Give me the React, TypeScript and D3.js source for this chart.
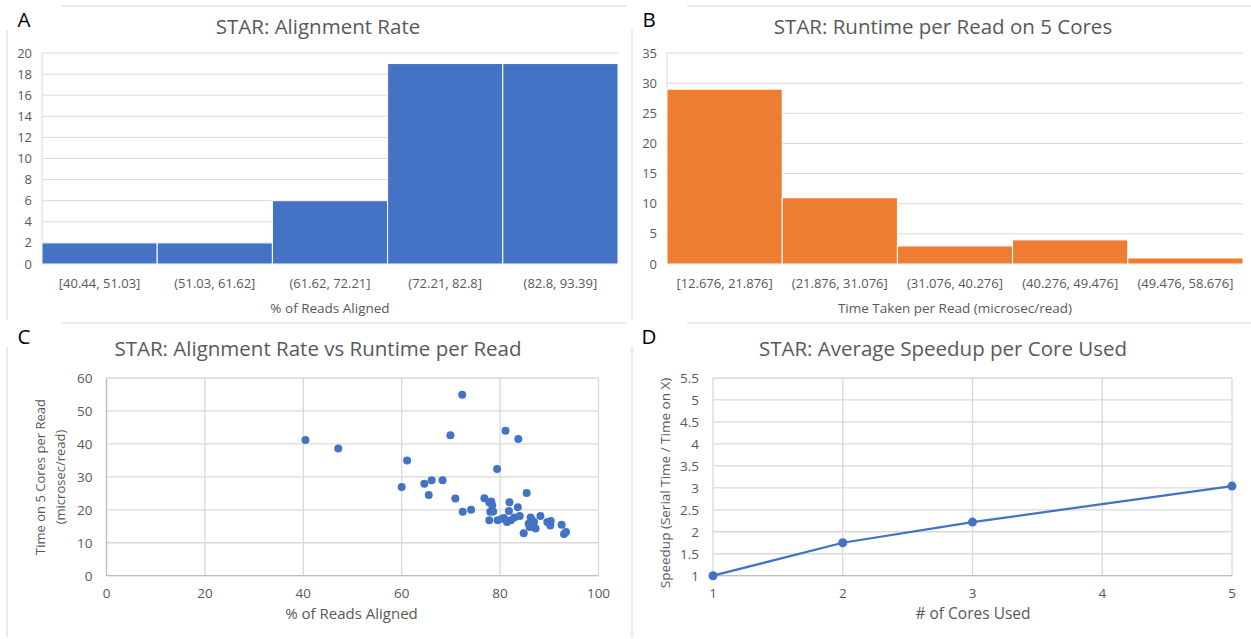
import React from "react";
import * as d3 from "d3";

// ---- Data ----
const alignBins = ["[40.44, 51.03]", "(51.03, 61.62]", "(61.62, 72.21]", "(72.21, 82.8]", "(82.8, 93.39]"];
const alignCounts = [2, 2, 6, 19, 19];
const alignTicks = [0, 2, 4, 6, 8, 10, 12, 14, 16, 18, 20];

const runtimeBins = ["[12.676, 21.876]", "(21.876, 31.076]", "(31.076, 40.276]", "(40.276, 49.476]", "(49.476, 58.676]"];
const runtimeCounts = [29, 11, 3, 4, 1];
const runtimeTicks = [0, 5, 10, 15, 20, 25, 30, 35];

// % of reads aligned vs time per read on 5 cores
const pctAligned = [
  40.44, 47.1, 60.0, 61.1, 64.6, 65.5, 66.1, 68.3, 69.9, 70.9,
  72.3, 72.4, 74.1, 76.8, 77.8, 78.2, 78.4, 78.0, 78.6, 77.8,
  79.4, 79.5, 80.4, 81.1, 81.4, 81.8, 81.9, 80.8, 82.2,
  82.9, 83.6, 83.7, 84.0, 84.8, 85.4, 85.8, 86.2, 86.5, 86.9,
  87.2, 86.0, 88.2, 89.6, 90.2, 90.3, 92.5, 93.0, 93.39,
];
const timePerRead = [
  41.2, 38.6, 26.9, 35.0, 27.9, 24.5, 29.0, 29.0, 42.6, 23.4,
  54.9, 19.4, 20.0, 23.5, 22.2, 22.5, 21.4, 19.4, 19.5, 16.8,
  32.4, 16.8, 17.3, 44.0, 16.3, 19.6, 22.3, 17.5, 16.8,
  17.7, 20.8, 41.5, 18.1, 12.9, 25.1, 15.8, 17.7, 16.8, 16.3,
  14.3, 14.8, 18.1, 16.3, 15.2, 16.6, 15.5, 12.676, 13.3,
];
const scatterXTicks = [0, 20, 40, 60, 80, 100];
const scatterYTicks = [0, 10, 20, 30, 40, 50, 60];

const coresUsed = [1, 2, 3, 5];
const speedup = [1, 1.75, 2.22, 3.04];
const coreTicks = [1, 2, 3, 4, 5];
const speedupTicks = [1, 1.5, 2, 2.5, 3, 3.5, 4, 4.5, 5, 5.5];

// ---- Styles ----
const FONT = "'Open Sans', 'Noto Sans', sans-serif";
const TEXT = "#595959";
const GRID = "#d9d9d9";
const BLUE = "#4472C4";
const ORANGE = "#ED7D31";
const TITLE_SIZE = 20.5;

type FrameProps = { x: number; y: number; label: string };

// Card edges and the panel letter
function Frame({ x, y, label }: FrameProps) {
  return (
    <g>
      <line x1={x + 62} x2={x + 626} y1={y + 6} y2={y + 6} stroke="#e3e3e3" strokeWidth={1.5} />
      <line x1={x + 7} x2={x + 7} y1={y + 30} y2={y + 320} stroke="#e3e3e3" strokeWidth={1.5} />
      <text x={x + 24} y={y + 27} fontFamily={FONT} fontSize={20.5} fill="#000" textAnchor="middle">
        {label}
      </text>
    </g>
  );
}

type HistProps = {
  ox: number;
  oy: number;
  title: string;
  bins: string[];
  counts: number[];
  ticks: number[];
  color: string;
  xTitle: string;
  left: number;
  right: number;
};

function Histogram({ ox, oy, title, bins, counts, ticks, color, xTitle, left, right }: HistProps) {
  const top = 53;
  const bottom = 264;
  const x = d3.scaleBand<string>().domain(bins).range([ox + left, ox + right]).padding(0);
  const y = d3.scaleLinear().domain([0, ticks[ticks.length - 1]]).range([oy + bottom, oy + top]);
  const cx = ox + (left + right) / 2;
  return (
    <g>
      <text x={ox + 318} y={oy + 34} textAnchor="middle" fontFamily={FONT} fontSize={TITLE_SIZE} fill={TEXT}>
        {title}
      </text>
      {ticks.map((t) => (
        <g key={t}>
          <line x1={ox + left} x2={ox + right} y1={y(t)} y2={y(t)} stroke={GRID} strokeWidth={1} />
          <text x={ox + left - 10} y={y(t) + 4.5} textAnchor="end" fontFamily={FONT} fontSize={13} fill={TEXT}>
            {t}
          </text>
        </g>
      ))}
      <line x1={ox + left} x2={ox + left} y1={oy + top} y2={oy + bottom} stroke={GRID} strokeWidth={1} />
      {bins.map((b, i) => (
        <rect
          key={b}
          x={x(b)!}
          y={y(counts[i])}
          width={x.bandwidth()}
          height={y(0) - y(counts[i])}
          fill={color}
          stroke="#ffffff"
          strokeWidth={1}
        />
      ))}
      {bins.map((b) => (
        <text
          key={b + "-l"}
          x={x(b)! + x.bandwidth() / 2}
          y={oy + 288}
          textAnchor="middle"
          fontFamily={FONT}
          fontSize={13}
          fill={TEXT}
        >
          {b}
        </text>
      ))}
      <text x={cx} y={oy + 313} textAnchor="middle" fontFamily={FONT} fontSize={13.5} fill={TEXT}>
        {xTitle}
      </text>
    </g>
  );
}

function Scatter({ ox, oy }: { ox: number; oy: number }) {
  const x = d3.scaleLinear().domain([0, 100]).range([ox + 106.5, ox + 598.5]);
  const y = d3.scaleLinear().domain([0, 60]).range([oy + 255.7, oy + 58]);
  return (
    <g>
      <text x={ox + 318} y={oy + 36} textAnchor="middle" fontFamily={FONT} fontSize={TITLE_SIZE} fill={TEXT}>
        STAR: Alignment Rate vs Runtime per Read
      </text>
      {scatterYTicks.map((t) => (
        <g key={"y" + t}>
          <line x1={x(0)} x2={x(100)} y1={y(t)} y2={y(t)} stroke={GRID} strokeWidth={1.3} />
          <text x={x(0) - 14} y={y(t) + 5} textAnchor="end" fontFamily={FONT} fontSize={13.5} fill={TEXT}>
            {t}
          </text>
        </g>
      ))}
      {scatterXTicks.map((t) => (
        <g key={"x" + t}>
          <line x1={x(t)} x2={x(t)} y1={y(0)} y2={y(60)} stroke={GRID} strokeWidth={1.3} />
          <text x={x(t)} y={y(0) + 22} textAnchor="middle" fontFamily={FONT} fontSize={13.5} fill={TEXT}>
            {t}
          </text>
        </g>
      ))}
      <line x1={x(0)} x2={x(100)} y1={y(0)} y2={y(0)} stroke="#bfbfbf" strokeWidth={1.3} />
      <line x1={x(0)} x2={x(0)} y1={y(0)} y2={y(60)} stroke="#bfbfbf" strokeWidth={1.3} />
      {pctAligned.map((p, i) => (
        <circle key={i} cx={x(p)} cy={y(timePerRead[i])} r={4} fill={BLUE} />
      ))}
      <text x={ox + 351.5} y={oy + 299} textAnchor="middle" fontFamily={FONT} fontSize={15} fill={TEXT}>
        % of Reads Aligned
      </text>
      <g transform={`translate(${ox + 45}, ${oy + 157}) rotate(-90)`}>
        <text x={0} y={0} textAnchor="middle" fontFamily={FONT} fontSize={13} fill={TEXT}>
          Time on 5 Cores per Read
        </text>
        <text x={0} y={20} textAnchor="middle" fontFamily={FONT} fontSize={13} fill={TEXT}>
          (microsec/read)
        </text>
      </g>
    </g>
  );
}

function SpeedupLine({ ox, oy }: { ox: number; oy: number }) {
  const x = d3.scaleLinear().domain([1, 5]).range([ox + 88, ox + 607]);
  const y = d3.scaleLinear().domain([1, 5.5]).range([oy + 255.7, oy + 58]);
  const line = d3
    .line<number>()
    .x((d, i) => x(coresUsed[i]))
    .y((d) => y(d));
  return (
    <g>
      <text x={ox + 318} y={oy + 36} textAnchor="middle" fontFamily={FONT} fontSize={TITLE_SIZE} fill={TEXT}>
        STAR: Average Speedup per Core Used
      </text>
      {speedupTicks.map((t) => (
        <g key={"y" + t}>
          <line x1={x(1)} x2={x(5)} y1={y(t)} y2={y(t)} stroke={GRID} strokeWidth={1.3} />
          <text x={x(1) - 14} y={y(t) + 5} textAnchor="end" fontFamily={FONT} fontSize={13.5} fill={TEXT}>
            {t}
          </text>
        </g>
      ))}
      {coreTicks.map((t) => (
        <g key={"x" + t}>
          <line x1={x(t)} x2={x(t)} y1={y(1)} y2={y(5.5)} stroke={GRID} strokeWidth={1.3} />
          <text x={x(t)} y={y(1) + 22} textAnchor="middle" fontFamily={FONT} fontSize={13.5} fill={TEXT}>
            {t}
          </text>
        </g>
      ))}
      <line x1={x(1)} x2={x(5)} y1={y(1)} y2={y(1)} stroke="#bfbfbf" strokeWidth={1.3} />
      <path d={line(speedup) ?? ""} fill="none" stroke={BLUE} strokeWidth={2.25} />
      {speedup.map((s, i) => (
        <circle key={i} cx={x(coresUsed[i])} cy={y(s)} r={4.5} fill={BLUE} />
      ))}
      <text x={ox + 348} y={oy + 299} textAnchor="middle" fontFamily={FONT} fontSize={15.5} fill={TEXT}>
        # of Cores Used
      </text>
      <text
        transform={`translate(${ox + 45}, ${oy + 163}) rotate(-90)`}
        textAnchor="middle"
        fontFamily={FONT}
        fontSize={13.5}
        fill={TEXT}
      >
        Speedup (Serial Time / Time on X)
      </text>
    </g>
  );
}

export default function App() {
  return (
    <svg
      width={1251}
      height={639}
      style={{ position: "absolute", left: 0, top: 0, background: "#fff" }}
    >
      <rect width={1251} height={639} fill="#fff" />
      <Frame x={0} y={0} label="A" />
      <Frame x={625} y={0} label="B" />
      <Frame x={0} y={317} label="C" />
      <Frame x={625} y={317} label="D" />
      <Histogram
        ox={0}
        oy={0}
        title="STAR: Alignment Rate"
        bins={alignBins}
        counts={alignCounts}
        ticks={alignTicks}
        color={BLUE}
        xTitle="% of Reads Aligned"
        left={42}
        right={618}
      />
      <Histogram
        ox={625}
        oy={0}
        title="STAR: Runtime per Read on 5 Cores"
        bins={runtimeBins}
        counts={runtimeCounts}
        ticks={runtimeTicks}
        color={ORANGE}
        xTitle="Time Taken per Read (microsec/read)"
        left={42}
        right={618}
      />
      <Scatter ox={0} oy={320} />
      <SpeedupLine ox={625} oy={320} />
    </svg>
  );
}
